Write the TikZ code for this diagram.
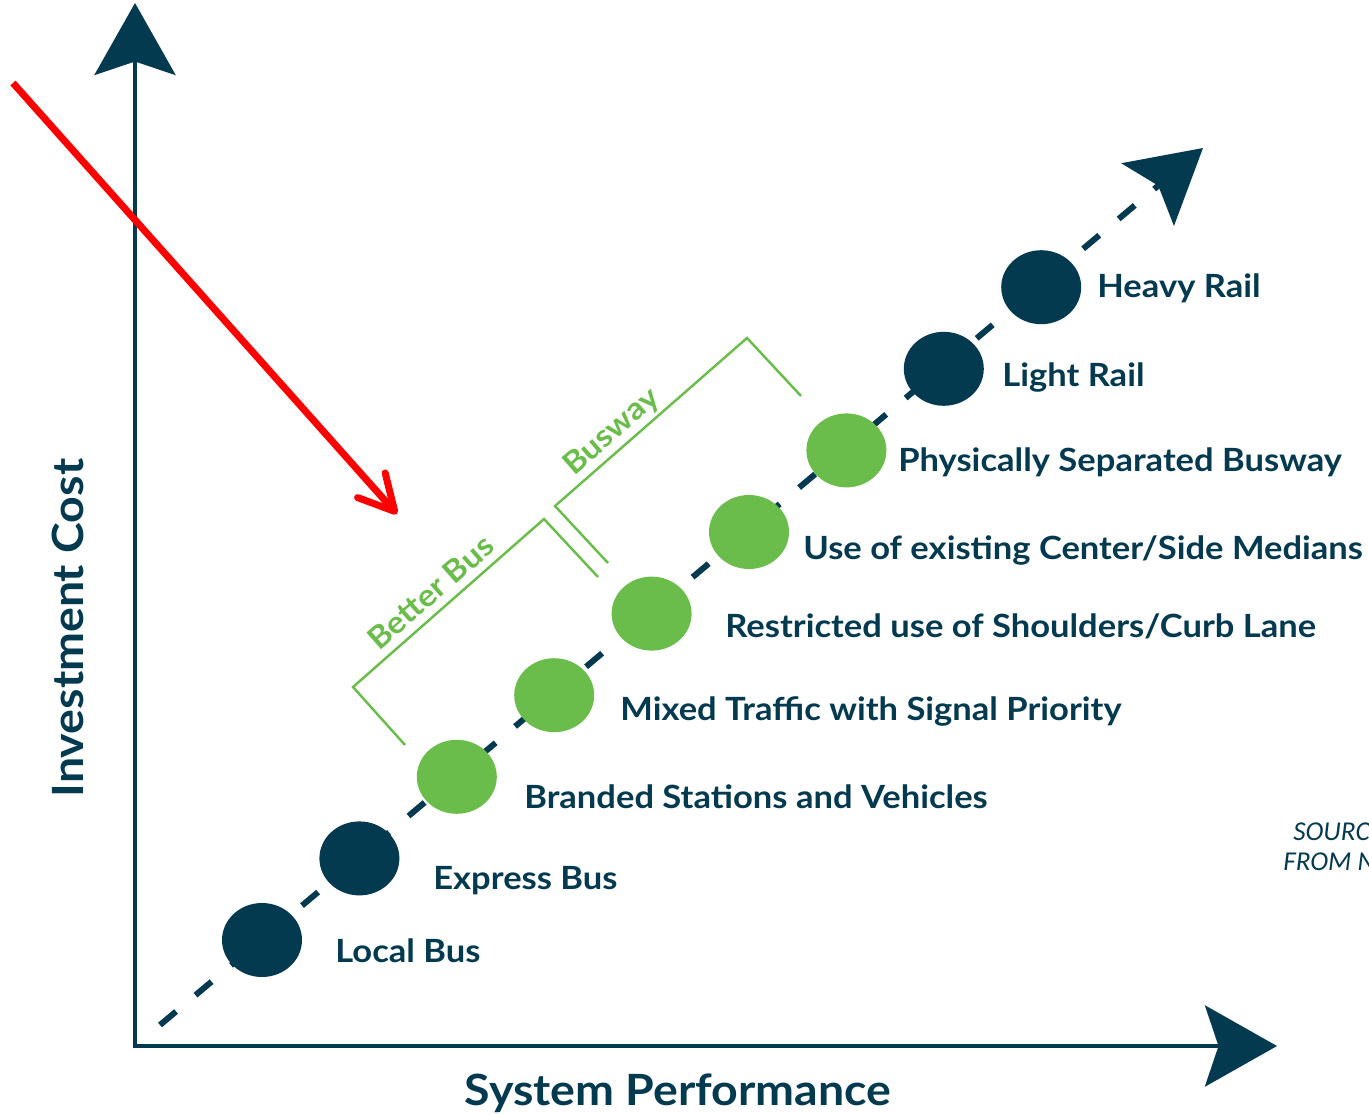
\documentclass[tikz,border=0pt]{standalone}
\usepackage{fontspec}
\setmainfont{Lato}[FakeStretch=1.08]
\newfontfamily\sourcefont{Carlito}
\usetikzlibrary{arrows.meta,positioning,shapes.geometric}

\definecolor{navy}{RGB}{4,58,80}
\definecolor{leaf}{RGB}{106,189,75}

\tikzstyle{axis} = [draw=navy, line width=2.6pt, <->]
\tikzstyle{scale line} = [draw=navy, line width=3.4pt, dash pattern=on 0.42cm off 0.508cm, ->]
\tikzstyle{stopdot} = [ellipse, minimum width=1.6cm, minimum height=1.48cm, inner sep=0pt]
\tikzstyle{navydot} = [stopdot, fill=navy]
\tikzstyle{greendot} = [stopdot, fill=leaf]
\tikzstyle{modetext} = [anchor=base west, inner sep=0pt, text=navy,
font=\bfseries\fontsize{18.2}{22}\selectfont]
\tikzstyle{axistitle} = [anchor=base, inner sep=0pt, text=navy,
font=\bfseries\fontsize{24.5}{28}\selectfont]
\tikzstyle{bracket} = [draw=leaf, line width=1.4pt]
\tikzstyle{grouptext} = [sloped, inner sep=0pt, text=leaf,
font=\bfseries\fontsize{17.5}{20}\selectfont]
\tikzstyle{sourcetext} = [anchor=base west, inner sep=0pt, text=navy,
font=\sourcefont\itshape\fontsize{15.5}{18}\selectfont]
\tikzstyle{pointer} = [draw=red, line width=4pt,
-{Straight Barb[length=0.7cm, width=0.74cm, round]}]

\begin{document}
\begin{tikzpicture}[x=0.02cm, y=-0.02cm,
>={Stealth[length=1.44cm, width=1.62cm, inset=0.27cm]}]
	\clip (0,0) rectangle (1369,1115);
	
	% axes
	\coordinate (Ytip) at (135,3);
	\coordinate (O) at (135,1046);
	\coordinate (Xtip) at (1277,1046);
	\draw [axis] (Ytip) -- (O) -- (Xtip);
	\node [axistitle, rotate=90] (CostTitle) at (83,628) {Investment Cost};
	\node [axistitle] (PerfTitle) at (678,1105) {System Performance};
	
	% dashed line through the modes
	\coordinate (Dstart) at (160,1025);
	\coordinate (Dend) at (1203,148);
	\draw [scale line] (Dstart) -- (Dend);
	
	\node [navydot] (Local) at (262,940) {};
	\node [navydot] (Express) at (359.4,858.4) {};
	\node [greendot] (Branded) at (456.8,776.8) {};
	\node [greendot] (Mixed) at (554.2,695.2) {};
	\node [greendot] (Restricted) at (651.6,613.6) {};
	\node [greendot] (Medians) at (749,532) {};
	\node [greendot] (Separated) at (846.4,450.4) {};
	\node [navydot] (Light) at (943.8,368.8) {};
	\node [navydot] (Heavy) at (1041.2,287.2) {};
	
	\node [modetext] (LocalText) at (335,962) {Local Bus};
	\node [modetext] (ExpressText) at (433,889) {Express Bus};
	\node [modetext] (BrandedText) at (524,808) {Branded Stations and Vehicles};
	\node [modetext] (MixedText) at (620,720) {Mixed Traffic with Signal Priority};
	\node [modetext] (RestrictedText) at (725,637) {Restricted use of Shoulders/Curb Lane};
	\node [modetext] (MediansText) at (803,559) {Use of existing Center/Side Medians};
	\node [modetext] (SeparatedText) at (898,471) {Physically Separated Busway};
	\node [modetext] (LightText) at (1002,386) {Light Rail};
	\node [modetext] (HeavyText) at (1097,297) {Heavy Rail};
	
	% groups
	\draw [bracket] (405,745) -- (353,687)
	-- node [grouptext, pos=0.475, above=0.15cm] (BetterBus) {Better Bus} (544,519) -- (598,577);
	\draw [bracket] (608,563) -- (555,506)
	-- node [grouptext, pos=0.36, above=0.06cm] (Busway) {Busway} (747,338) -- (801,396);
	
	% red pointer
	\coordinate (PointerTail) at (13,83);
	\coordinate (PointerHead) at (397,514);
	\draw [pointer] (PointerTail) -- (PointerHead);
	
	\node [sourcetext] (Source) at (1293,840) {SOURC};
	\node [sourcetext] (From) at (1283,870) {FROM N};
	
\end{tikzpicture}
\end{document}
